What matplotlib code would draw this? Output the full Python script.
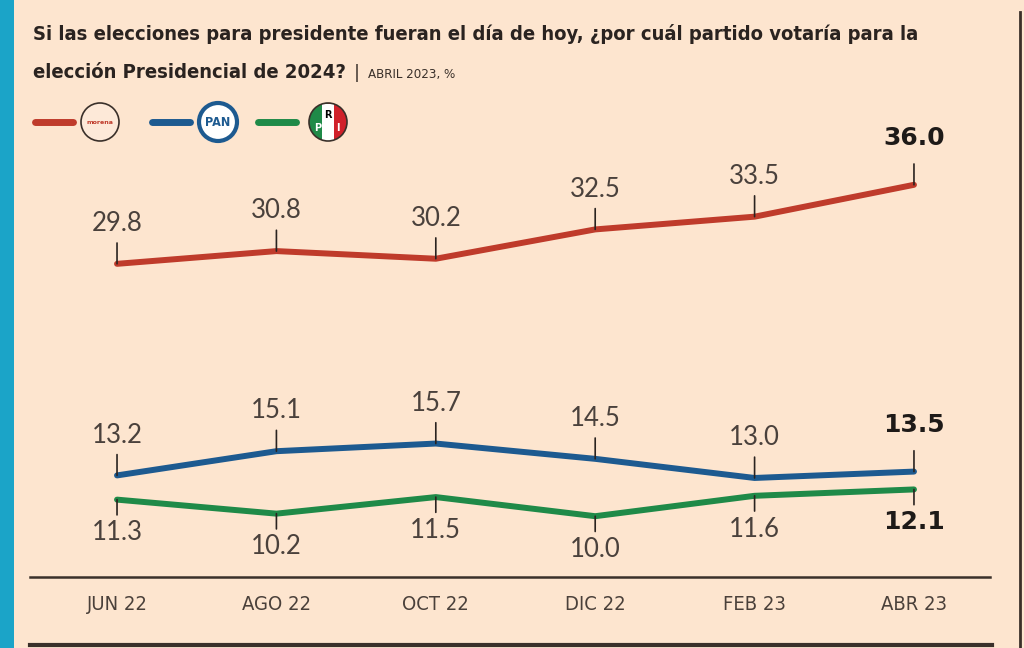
import matplotlib.pyplot as plt
from matplotlib.patches import Circle, Rectangle, Wedge
from matplotlib.lines import Line2D

# datos
meses = ["JUN 22", "AGO 22", "OCT 22", "DIC 22", "FEB 23", "ABR 23"]
morena = [29.8, 30.8, 30.2, 32.5, 33.5, 36.0]
pan = [13.2, 15.1, 15.7, 14.5, 13.0, 13.5]
pri = [11.3, 10.2, 11.5, 10.0, 11.6, 12.1]

bg = "#fde5cf"
c_morena = "#bf3b2b"
c_pan = "#1d5a90"
c_pri = "#1f8a48"
ink = "#3a302a"

fig = plt.figure(figsize=(10.24, 6.48), dpi=100, facecolor=bg)
W, H = 1024, 648


def fx(px):
    return px / W


def fy(py):
    return 1 - py / H


# barra lateral y marcos
fig.add_artist(Rectangle((0, 0), fx(14), 1, transform=fig.transFigure, color="#1ba4c8", lw=0))
fig.add_artist(Line2D([fx(1020), fx(1020)], [fy(12), fy(648)], transform=fig.transFigure, color=ink, lw=2))
fig.add_artist(Line2D([fx(30), fx(992)], [fy(645), fy(645)], transform=fig.transFigure, color=ink, lw=3))

# titulo
tfont = dict(family="DejaVu Sans", stretch="condensed", weight="bold", color="#2a2320")
fig.text(fx(33), fy(40), "Si las elecciones para presidente fueran el día de hoy, ¿por cuál partido votaría para la",
         fontsize=14.5, **tfont)
t2 = fig.text(fx(33), fy(78), "elección Presidencial de 2024?", fontsize=14.5, **tfont)
fig.canvas.draw()
bb = t2.get_window_extent()
fig.text(bb.x1 / W + fx(8), fy(78), "|", fontsize=13, color=ink, family="DejaVu Sans")
fig.text(bb.x1 / W + fx(22), fy(78), "ABRIL 2023, %", fontsize=9.5, color=ink, family="DejaVu Sans",
         stretch="condensed")

# leyenda
def leg_line(x0, color):
    fig.add_artist(Line2D([fx(x0), fx(x0 + 38)], [fy(122), fy(122)], transform=fig.transFigure,
                          color=color, lw=5, solid_capstyle="round"))


leg_line(35, c_morena)
leg_line(152, c_pan)
leg_line(258, c_pri)

ax_leg = fig.add_axes([0, 0, 1, 1], facecolor="none")
ax_leg.set_xlim(0, W)
ax_leg.set_ylim(H, 0)
ax_leg.set_aspect("equal")
ax_leg.axis("off")
ax_leg.add_patch(Circle((100, 122), 19, fc="#fde9d8", ec=ink, lw=1.2))
ax_leg.text(100, 123, "morena", ha="center", va="center", fontsize=4.5, color=c_morena, weight="bold")
ax_leg.add_patch(Circle((218, 122), 19, fc="white", ec=c_pan, lw=3))
ax_leg.text(218, 123, "PAN", ha="center", va="center", fontsize=9, color=c_pan, weight="bold",
            family="DejaVu Sans", stretch="condensed")
ax_leg.add_patch(Wedge((328, 122), 19, 90, 270, fc=c_pri, lw=0))
ax_leg.add_patch(Wedge((328, 122), 19, -90, 90, fc="#d0202a", lw=0))
ax_leg.add_patch(Rectangle((322, 103.5), 12, 37, fc="white", lw=0))
ax_leg.add_patch(Circle((328, 122), 19, fc="none", ec=ink, lw=1.2))
ax_leg.text(318, 128, "P", ha="center", va="center", fontsize=7, color="white", weight="bold")
ax_leg.text(328, 115, "R", ha="center", va="center", fontsize=7, color="black", weight="bold")
ax_leg.text(338, 128, "I", ha="center", va="center", fontsize=7, color="white", weight="bold")

# grafica principal
ax = fig.add_axes([fx(30), fy(577), fx(990) - fx(30), fy(130) - fy(577)], facecolor="none")
x = list(range(len(meses)))
ax.plot(x, morena, color=c_morena, lw=4.3, solid_capstyle="round", zorder=3)
ax.plot(x, pan, color=c_pan, lw=4.3, solid_capstyle="round", zorder=3)
ax.plot(x, pri, color=c_pri, lw=4.3, solid_capstyle="round", zorder=3)
ax.set_xlim(-0.546, 5.477)
ax.set_ylim(5.23, 40.3)

lab = dict(ha="center", fontsize=18.5, color="#4a413c", family="Lato", fontweight="normal")


def etiquetas(vals, arriba):
    s = 1 if arriba else -1
    for i, v in enumerate(vals):
        ultimo = i == len(vals) - 1
        tick = 15 if arriba else 11
        ax.annotate("", xy=(i, v), xytext=(0, s * tick), textcoords="offset points",
                    arrowprops=dict(arrowstyle="-", color="#2a2320", lw=1.2, shrinkA=0, shrinkB=0), zorder=4)
        off = (25 if ultimo else 20) if arriba else 15
        kw = dict(lab)
        if ultimo:
            kw.update(fontweight="bold", color="#1e1a18", fontsize=18, family="DejaVu Sans")
        ax.annotate(f"{v:.1f}", xy=(i, v), xytext=(0, s * off), textcoords="offset points",
                    va="bottom" if arriba else "top", **kw)


etiquetas(morena, True)
etiquetas(pan, True)
etiquetas(pri, False)

for side in ["top", "right", "left"]:
    ax.spines[side].set_visible(False)
ax.spines["bottom"].set_color(ink)
ax.spines["bottom"].set_linewidth(1.8)
ax.set_yticks([])
ax.set_xticks(x)
ax.set_xticklabels(meses, fontsize=14.5, color="#4a403a", family="DejaVu Sans", stretch="condensed")
ax.tick_params(axis="x", length=0, pad=13)

fig.savefig("out.png", dpi=100, facecolor=bg)
